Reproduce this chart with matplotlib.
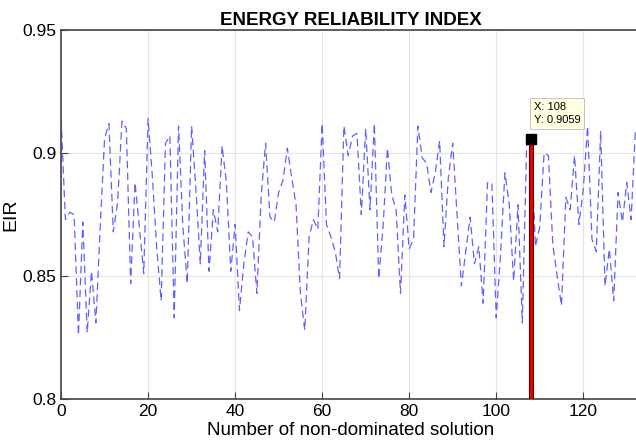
import matplotlib
matplotlib.use("Agg")
import matplotlib.pyplot as plt
import numpy as np

plt.rcParams['font.family'] = ['Liberation Sans', 'DejaVu Sans']

# EIR of each non-dominated solution
eir = [0.914, 0.873, 0.876, 0.875, 0.826, 0.872, 0.827, 0.852, 0.831, 0.870,
       0.906, 0.912, 0.868, 0.880, 0.913, 0.910, 0.847, 0.888, 0.870, 0.851,
       0.914, 0.890, 0.861, 0.840, 0.904, 0.907, 0.833, 0.911, 0.870, 0.847,
       0.911, 0.885, 0.855, 0.901, 0.852, 0.877, 0.868, 0.903, 0.888, 0.852,
       0.871, 0.836, 0.855, 0.868, 0.866, 0.843, 0.883, 0.904, 0.874, 0.872,
       0.884, 0.889, 0.902, 0.890, 0.879, 0.843, 0.828, 0.866, 0.873, 0.869,
       0.912, 0.871, 0.866, 0.860, 0.849, 0.911, 0.899, 0.907, 0.908, 0.875,
       0.910, 0.877, 0.912, 0.849, 0.870, 0.902, 0.883, 0.877, 0.843, 0.883,
       0.861, 0.865, 0.911, 0.898, 0.896, 0.884, 0.892, 0.905, 0.862, 0.890,
       0.904, 0.875, 0.846, 0.860, 0.874, 0.855, 0.862, 0.839, 0.888, 0.888,
       0.833, 0.859, 0.892, 0.879, 0.848, 0.879, 0.831, 0.904, 0.9059, 0.862,
       0.870, 0.900, 0.899, 0.863, 0.850, 0.838, 0.882, 0.877, 0.899, 0.871,
       0.885, 0.911, 0.865, 0.860, 0.909, 0.846, 0.861, 0.840, 0.884, 0.872,
       0.888, 0.873, 0.910]
sol = np.arange(len(eir))

best_x = 108
best_y = eir[best_x]

fig = plt.figure(figsize=(6.36, 4.43), dpi=100)
ax = fig.add_axes([0.096, 0.099, 0.91, 0.833])

ax.plot(sol, eir, linestyle=(0, (6, 3.5)), color=(0.38, 0.38, 1.0), lw=0.9)
ax.bar(best_x, best_y - 0.8, bottom=0.8, width=0.8, color='#ee0000',
       edgecolor='#550000', linewidth=0.8, zorder=3)
ax.plot(best_x, best_y, 's', color='black', markersize=6.5, zorder=4)
ax.annotate('X: %d\nY: %.4f' % (best_x, best_y), xy=(best_x, best_y),
            xytext=(2, 10), textcoords='offset points', fontsize=8,
            ha='left', va='bottom', linespacing=1.4,
            bbox=dict(boxstyle='square,pad=0.35', fc='#ffffe1', ec='#bbbbbb', lw=0.6),
            zorder=5)

ax.set_xlim(0, 133)
ax.set_ylim(0.8, 0.95)
ax.set_xticks(range(0, 121, 20))
ax.set_yticks([0.8, 0.85, 0.9, 0.95])
ax.set_yticklabels(['0.8', '0.85', '0.9', '0.95'])
ax.tick_params(direction='in', labelsize=12.5, length=5, color='#444444')
ax.grid(True, color='#e4e4e4', lw=0.8)
ax.set_axisbelow(True)
for s in ax.spines.values():
    s.set_color('#444444')
    s.set_linewidth(1.2)

ax.set_title('ENERGY RELIABILITY INDEX', fontsize=13.5, fontweight='bold', pad=4)
ax.set_xlabel('Number of non-dominated solution', fontsize=13.5, labelpad=2)
ax.set_ylabel('EIR', fontsize=14)
ax.yaxis.set_label_coords(-0.072, 0.5)

fig.savefig('out.png', dpi=100)
